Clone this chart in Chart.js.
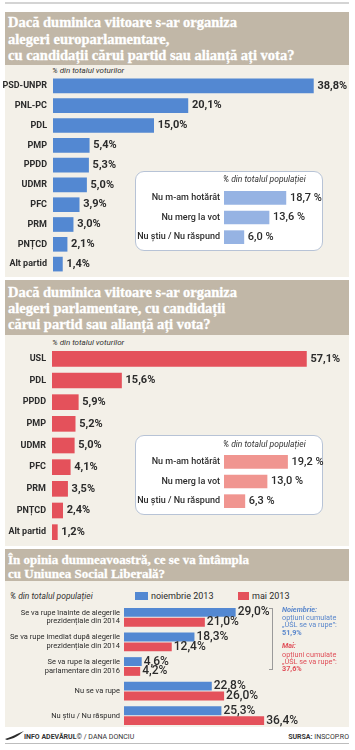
<!DOCTYPE html>
<html><head><meta charset="utf-8">
<script src="https://cdn.jsdelivr.net/npm/chart.js@4.4.0/dist/chart.umd.min.js"></script>
<style>
html,body{margin:0;padding:0;background:#fff;}
body{width:355px;height:750px;position:relative;overflow:hidden;font-family:Roboto,"Liberation Sans",sans-serif;color:#2b2b2b;}
.title{position:absolute;left:5px;width:344px;background:#c1b7a7;color:#fff;font-family:"Liberation Serif",serif;font-weight:bold;-webkit-text-stroke:0.3px #fff;}
.title div{position:absolute;left:3px;white-space:nowrap;height:18px;line-height:18px;}
.body{position:absolute;left:5px;width:344px;background:#f3f0e8;}
.cap{position:absolute;font-style:italic;font-size:8px;color:#333;white-space:nowrap;height:10px;line-height:10px;}
.inset{position:absolute;background:#fff;border:1.5px solid #b7c3d6;border-radius:9px;box-sizing:border-box;}
canvas{position:absolute;}
.t{position:absolute;white-space:nowrap;}
.ann{position:absolute;left:282px;font-size:7.3px;white-space:nowrap;height:8px;line-height:8px;}
</style></head><body>
<div class="t" style="left:5px;top:2px;width:344px;height:2px;background:#d4d4d4"></div>

<div class="title" style="top:12px;height:53px;font-size:14.5px">
  <div style="top:1px">Dacă duminica viitoare s-ar organiza</div>
  <div style="top:17.5px">alegeri europarlamentare,</div>
  <div style="top:34px">cu candidații cărui partid sau alianță ați vota?</div>
</div>
<div class="body" style="top:65px;height:212px"></div>
<div class="cap" style="left:52px;top:66px">% din totalul voturilor</div>
<canvas id="c1"></canvas>
<div class="inset" style="left:135px;top:171px;width:188px;height:80px"></div>
<div class="cap" style="left:223px;top:174px;font-size:8.5px">% din totalul populației</div>
<canvas id="c1b"></canvas>

<div class="title" style="top:280px;height:55px;font-size:14.5px">
  <div style="top:3px">Dacă duminica viitoare s-ar organiza</div>
  <div style="top:19px">alegeri parlamentare, cu candidații</div>
  <div style="top:35px">cărui partid sau alianță ați vota?</div>
</div>
<div class="body" style="top:335px;height:211px"></div>
<div class="cap" style="left:52px;top:338px">% din totalul voturilor</div>
<canvas id="c2"></canvas>
<div class="inset" style="left:135px;top:435px;width:188px;height:80px"></div>
<div class="cap" style="left:223px;top:439px;font-size:8.5px">% din totalul populației</div>
<canvas id="c2b"></canvas>

<div class="title" style="top:549px;height:32px;font-size:13px">
  <div style="top:2px">În opinia dumneavoastră, ce se va întâmpla</div>
  <div style="top:15.5px">cu Uniunea Social Liberală?</div>
</div>
<div class="body" style="top:581px;height:146px"></div>
<div class="cap" style="left:10px;top:591px;font-size:8.5px">% din totalul populației</div>
<div id="legend"></div>
<canvas id="c3"></canvas>
<div class="t" style="left:272px;top:608px;width:1px;height:62px;background:#9a9a9a"></div>
<div class="t" style="left:269px;top:608px;width:4px;height:1px;background:#9a9a9a"></div>
<div class="t" style="left:269px;top:669px;width:4px;height:1px;background:#9a9a9a"></div>
<div class="ann" style="top:606px;color:#5a87cc;font-weight:bold;font-style:italic">Noiembrie:</div>
<div class="ann" style="top:613.5px;color:#5a87cc">opțiuni cumulate</div>
<div class="ann" style="top:620.5px;color:#5a87cc">„USL se va rupe”:</div>
<div class="ann" style="top:629px;color:#5a87cc;font-weight:bold">51,9%</div>
<div class="ann" style="top:642px;color:#e0505a;font-weight:bold;font-style:italic">Mai:</div>
<div class="ann" style="top:650.5px;color:#e0505a">opțiuni cumulate</div>
<div class="ann" style="top:658px;color:#e0505a">„USL se va rupe”:</div>
<div class="ann" style="top:665px;color:#e0505a;font-weight:bold">37,6%</div>

<svg class="t" style="left:5px;top:731px" width="20" height="10" viewBox="0 0 20 10"><path d="M0 8 C5 6 9 5 12 3 L19 0 L14 4 C11 6 7 8 2 9 Z" fill="#2b2b2b"/></svg>
<div class="t" style="left:24px;top:733px;font-size:7px;line-height:8px;color:#333"><b>INFO ADEVĂRUL</b>© / DANA DONCIU</div>
<div class="t" style="right:6px;top:733px;font-size:7px;line-height:8px;color:#333"><b>SURSA:</b> INSCOP.RO</div>
<div class="t" style="left:5px;top:743px;width:344px;height:1px;background:#bdbdbd"></div>

<script>
// ---- data ----
const euroParties = ['PSD-UNPR','PNL-PC','PDL','PMP','PPDD','UDMR','PFC','PRM','PNȚCD','Alt partid'];
const euroValues = [38.8,20.1,15.0,5.4,5.3,5.0,3.9,3.0,2.1,1.4];
const euroOtherLabels = ['Nu m-am hotărât','Nu merg la vot','Nu știu / Nu răspund'];
const euroOtherValues = [18.7,13.6,6.0];
const parlParties = ['USL','PDL','PPDD','PMP','UDMR','PFC','PRM','PNȚCD','Alt partid'];
const parlValues = [57.1,15.6,5.9,5.2,5.0,4.1,3.5,2.4,1.2];
const parlOtherLabels = ['Nu m-am hotărât','Nu merg la vot','Nu știu / Nu răspund'];
const parlOtherValues = [19.2,13.0,6.3];
const uslScenarios = [
  ['Se va rupe înainte de alegerile','prezidențiale din 2014'],
  ['Se va rupe imediat după alegerile','prezidențiale din 2014'],
  ['Se va rupe la alegerile','parlamentare din 2016'],
  'Nu se va rupe',
  'Nu știu / Nu răspund'
];
const uslNov2013 = [29.0,18.3,4.6,22.8,25.3];
const uslMay2013 = [21.0,12.4,4.2,26.0,36.4];
const seriesNames = ['noiembrie 2013','mai 2013'];

// ---- styles ----
const BLUE = '#5388d2', BLUE_L = '#96b3e3', RED = '#e4515b', RED_L = '#f09590';
const INK = '#2b2b2b';

const valueLabels = {
  id:'valueLabels',
  afterDatasetsDraw(chart, args, o){
    const ctx = chart.ctx;
    chart.data.datasets.forEach((ds,di)=>{
      const meta = chart.getDatasetMeta(di);
      meta.data.forEach((el,i)=>{
        const v = ds.data[i];
        ctx.save();
        ctx.font = o.font;
        ctx.fillStyle = INK;
        ctx.textBaseline = 'middle';
        ctx.textAlign = 'left';
        ctx.fillText(v.toFixed(1).replace('.',',') + o.suffix, el.x + o.gap, el.y + (o.dy||0));
        ctx.restore();
      });
    });
  }
};

function hbar(id, box, labels, datasets, cfg){
  const c = document.getElementById(id);
  c.style.left = box.x+'px'; c.style.top = box.y+'px';
  c.width = box.w; c.height = box.h;
  return new Chart(c, {
    type:'bar',
    data:{labels, datasets},
    options:{
      indexAxis:'y', responsive:false, animation:false, devicePixelRatio:1,
      layout:{padding:{left:0,top:0,bottom:0,right:cfg.padR||0}},
      plugins:{legend:{display:false}, tooltip:{enabled:false}, valueLabels: cfg.vl},
      scales:{
        x:{display:false, min:0, max:cfg.max},
        y:{afterFit:s=>{s.width=cfg.axisW; s.paddingTop=0; s.paddingBottom=0;},
           grid:{display:false,drawTicks:false}, border:{display:false},
           ticks:{padding:cfg.pad, color:INK, font:cfg.tickFont, autoSkip:false}}
      }
    },
    plugins:[valueLabels]
  });
}

const mainTick = {family:'Roboto', size:9, weight:'bold'};
const insetTick = {family:'Roboto', size:9, weight:'500'};
const mainVL = {font:'bold 11px Roboto', suffix:'%', gap:4};
const insetVL = {font:'500 11px Roboto', suffix:' %', gap:4};

hbar('c1', {x:0,y:76,w:355,h:198}, euroParties,
  [{data:euroValues, backgroundColor:BLUE, barThickness:14}],
  {max:45, axisW:53, pad:6, tickFont:mainTick, vl:mainVL});
hbar('c1b', {x:135,y:188,w:210,h:59}, euroOtherLabels,
  [{data:euroOtherValues, backgroundColor:BLUE_L, barThickness:13}],
  {max:29, axisW:89, pad:4, padR:25, tickFont:insetTick, vl:insetVL});
hbar('c2', {x:0,y:348,w:355,h:195}, parlParties,
  [{data:parlValues, backgroundColor:RED, barThickness:15}],
  {max:68, axisW:52, pad:6, tickFont:mainTick, vl:mainVL});
hbar('c2b', {x:135,y:452,w:210,h:59}, parlOtherLabels,
  [{data:parlOtherValues, backgroundColor:RED_L, barThickness:13}],
  {max:29, axisW:89, pad:4, padR:25, tickFont:insetTick, vl:insetVL});
hbar('c3', {x:0,y:605,w:355,h:123}, uslScenarios,
  [{label:seriesNames[0], data:uslNov2013, backgroundColor:BLUE, categoryPercentage:0.8, barPercentage:0.9},
   {label:seriesNames[1], data:uslMay2013, backgroundColor:RED, categoryPercentage:0.8, barPercentage:0.9}],
  {max:60, axisW:124, pad:4, tickFont:{family:'Roboto', size:7.5, lineHeight:1.15}, vl:{font:'500 12px Roboto', suffix:'%', gap:2}});

// legend (HTML, from series names/colours)
const lg = document.getElementById('legend');
[[seriesNames[0],BLUE,135,13],[seriesNames[1],RED,238,11]].forEach(([name,col,x,w])=>{
  const sw = document.createElement('div');
  sw.className='t'; sw.style.cssText=`left:${x}px;top:592px;width:${w}px;height:8px;background:${col}`;
  const tx = document.createElement('div');
  tx.className='t'; tx.textContent=name;
  tx.style.cssText=`left:${x+w+3}px;top:591px;font-size:9px;line-height:10px;color:${INK}`;
  lg.appendChild(sw); lg.appendChild(tx);
});
</script>
</body></html>
